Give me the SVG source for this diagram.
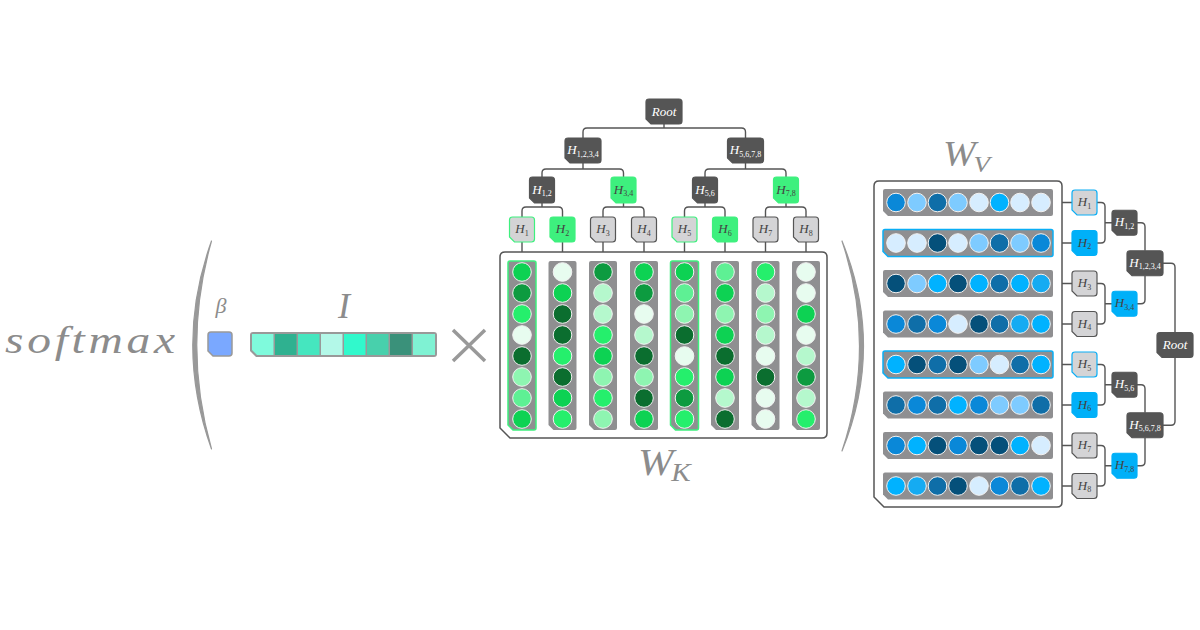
<svg xmlns="http://www.w3.org/2000/svg" xmlns:xlink="http://www.w3.org/1999/xlink" width="1200" height="630" viewBox="0 0 1200 630">
<style>
.math{font-family:"Liberation Serif","DejaVu Serif",serif;font-style:italic;fill:#8c8c8c}
.lbl{font-family:"Liberation Serif","DejaVu Serif",serif;font-style:italic;font-size:13px;text-anchor:middle}
.lw{fill:#ffffff}
.ld{fill:#444444}
.sub{font-size:8px;font-style:normal}
.conn{fill:none;stroke:#555555;stroke-width:1.4}
.box{fill:#ffffff;stroke:#555555;stroke-width:1.5}
.dark{fill:#555555;stroke:#555555;stroke-width:1.2}
.light{fill:#d4d4d6;stroke:#555555;stroke-width:1.2}
.lg{fill:#d4d4d6;stroke:#3ef07e;stroke-width:1.2}
.gg{fill:#3ef07e;stroke:#3ef07e;stroke-width:1.2}
.lb{fill:#d4d4d6;stroke:#0aaef5;stroke-width:1.2}
.bb{fill:#00b0f8;stroke:#00b0f8;stroke-width:1.2}
.col{fill:#8f8f91}
.colg{fill:#8f8f91;stroke:#3ef07e;stroke-width:1.5}
.colb{fill:#8f8f91;stroke:#0aaef5;stroke-width:1.5}
circle{stroke:#f2f2f2;stroke-width:1}
.g1{fill:#0b6e2f}.g2{fill:#0d9b40}.g3{fill:#0dd253}.g4{fill:#25ef6c}
.g5{fill:#5ef094}.g6{fill:#8ef5b1}.g7{fill:#b5f8cd}.g8{fill:#e7fcef}
.b1{fill:#05507a}.b2{fill:#0f6ea8}.b3{fill:#0a88d8}.b4{fill:#00b2ff}
.b5{fill:#15abf2}.b6{fill:#7ecbff}.b7{fill:#d6edff}
</style>
<defs>
<path id="leaf" d="M3,0 H22 Q25,0 25,3 V22 Q25,25 22,25 H5 L0,20 V3 Q0,0 3,0 Z"/>
<path id="n2" d="M3,0 H22 Q25,0 25,3 V23 Q25,26 22,26 H5 L0,21 V3 Q0,0 3,0 Z"/>
<path id="n36" d="M3,0 H33 Q36,0 36,3 V22 Q36,25 33,25 H5 L0,20 V3 Q0,0 3,0 Z"/>
<path id="col" d="M2,0 H26 Q28,0 28,2 V167 Q28,169 26,169 H5 L0,164 V2 Q0,0 2,0 Z"/>
<path id="row" d="M2,0 H168 Q170,0 170,2 V25 Q170,27 168,27 H5 L0,22 V2 Q0,0 2,0 Z"/>
</defs>

<!-- left part -->
<g id="softmax">
<text class="math" transform="translate(5,353) scale(1.25,1)" x="0" y="0" font-size="38" textLength="136" lengthAdjust="spacing">softmax</text>
</g>
<g id="paren-left">
<path d="M211.5,241 Q174,345 211.5,449 Q182,345 211.5,241 Z" fill="#999999" stroke="#999999" stroke-width="1.2" stroke-linejoin="round"/>
</g>
<g id="beta">
<text class="math" x="221" y="313" font-size="22" text-anchor="middle">β</text>
<path d="M211,332 H229 Q232,332 232,335 V353 Q232,356 229,356 H213 L208,351 V335 Q208,332 211,332 Z" fill="#7aa8ff" stroke="#999999" stroke-width="1.5"/>
</g>
<g id="I-vector">
<text class="math" x="344" y="318" font-size="36" text-anchor="middle">I</text>
<path d="M253,332 H434 Q437,332 437,335 V354 Q437,357 434,357 H256 L250,351 V335 Q250,332 253,332 Z" fill="#999999"/>
<path d="M252,334 H273.5 V355 H257 L252,350 Z" fill="#7ffadc"/>
<rect x="275" y="334" width="21.5" height="21" fill="#2fb190"/>
<rect x="298" y="334" width="21.5" height="21" fill="#45e6bf"/>
<rect x="321" y="334" width="21.5" height="21" fill="#b3f8e8"/>
<rect x="344" y="334" width="21.5" height="21" fill="#31f9cc"/>
<rect x="367" y="334" width="21.5" height="21" fill="#48d0ac"/>
<rect x="390" y="334" width="21.5" height="21" fill="#3a917a"/>
<rect x="413" y="334" width="22" height="21" fill="#7ff2d3"/>
</g>
<g id="times">
<path d="M453,330 L485,361 M485,330 L453,361" stroke="#999999" stroke-width="3.5" fill="none"/>
</g>

<!-- connectors -->
<g id="connectors" class="conn">
<path d="M664,123 V128 M583,138 V132 Q583,128 587,128 H741.5 Q745.5,128 745.5,132 V138"/>
<path d="M583,163 V169 M542,177 V173 Q542,169 546,169 H619.5 Q623.5,169 623.5,173 V177"/>
<path d="M745.5,163 V169 M705,177 V173 Q705,169 709,169 H782 Q786,169 786,173 V177"/>
<path d="M542,203 V207 M522,217 V211 Q522,207 526,207 H558.5 Q562.5,207 562.5,211 V217"/>
<path d="M623.5,203 V207 M603,217 V211 Q603,207 607,207 H640 Q644,207 644,211 V217"/>
<path d="M705,203 V207 M684.5,217 V211 Q684.5,207 688.5,207 H721 Q725,207 725,211 V217"/>
<path d="M786,203 V207 M765.5,217 V211 Q765.5,207 769.5,207 H802 Q806,207 806,211 V217"/>
<path d="M522,242 V252 M562.5,242 V252 M603,242 V252 M644,242 V252 M684.5,242 V252 M725,242 V252 M765.5,242 V252 M806,242 V252"/>
<path d="M1062,202.5 H1072 M1062,243 H1072 M1062,283.5 H1072 M1062,324 H1072 M1062,364.5 H1072 M1062,405 H1072 M1062,445.5 H1072 M1062,486 H1072"/>
<path d="M1097,202.5 H1101 Q1105,202.5 1105,206.5 V239 Q1105,243 1101,243 H1097 M1105,222.75 H1112"/>
<path d="M1097,283.5 H1101 Q1105,283.5 1105,287.5 V320 Q1105,324 1101,324 H1097 M1105,303.75 H1112"/>
<path d="M1097,364.5 H1101 Q1105,364.5 1105,368.5 V401 Q1105,405 1101,405 H1097 M1105,384.75 H1112"/>
<path d="M1097,445.5 H1101 Q1105,445.5 1105,449.5 V482 Q1105,486 1101,486 H1097 M1105,465.75 H1112"/>
<path d="M1137,222.75 H1141 Q1145,222.75 1145,226.75 V250.75 M1137,303.75 H1141 Q1145,303.75 1145,299.75 V275.75"/>
<path d="M1137,384.75 H1141 Q1145,384.75 1145,388.75 V412.75 M1137,465.75 H1141 Q1145,465.75 1145,461.75 V437.75"/>
<path d="M1163,263.25 H1171 Q1175,263.25 1175,267.25 V332.5 M1163,425.25 H1171 Q1175,425.25 1175,421.25 V357.5"/>
</g>

<!-- W_K matrix -->
<g id="WK">
<path class="box" d="M505,252 H822 Q827,252 827,257 V433 Q827,438 822,438 H510 L500,428 V257 Q500,252 505,252 Z"/>
<use href="#col" xlink:href="#col" x="508" y="261" class="colg"/>
<use href="#col" xlink:href="#col" x="548.5" y="261" class="col"/>
<use href="#col" xlink:href="#col" x="589" y="261" class="col"/>
<use href="#col" xlink:href="#col" x="630" y="261" class="col"/>
<use href="#col" xlink:href="#col" x="670.5" y="261" class="colg"/>
<use href="#col" xlink:href="#col" x="711" y="261" class="col"/>
<use href="#col" xlink:href="#col" x="751.5" y="261" class="col"/>
<use href="#col" xlink:href="#col" x="792" y="261" class="col"/>
<g>
<circle cx="522" cy="272" r="9.3" class="g3"/><circle cx="522" cy="293" r="9.3" class="g2"/><circle cx="522" cy="314" r="9.3" class="g4"/><circle cx="522" cy="335" r="9.3" class="g8"/><circle cx="522" cy="356" r="9.3" class="g1"/><circle cx="522" cy="377" r="9.3" class="g6"/><circle cx="522" cy="398" r="9.3" class="g5"/><circle cx="522" cy="419" r="9.3" class="g3"/>
<circle cx="562.5" cy="272" r="9.3" class="g8"/><circle cx="562.5" cy="293" r="9.3" class="g3"/><circle cx="562.5" cy="314" r="9.3" class="g1"/><circle cx="562.5" cy="335" r="9.3" class="g1"/><circle cx="562.5" cy="356" r="9.3" class="g4"/><circle cx="562.5" cy="377" r="9.3" class="g1"/><circle cx="562.5" cy="398" r="9.3" class="g3"/><circle cx="562.5" cy="419" r="9.3" class="g4"/>
<circle cx="603" cy="272" r="9.3" class="g2"/><circle cx="603" cy="293" r="9.3" class="g7"/><circle cx="603" cy="314" r="9.3" class="g7"/><circle cx="603" cy="335" r="9.3" class="g4"/><circle cx="603" cy="356" r="9.3" class="g3"/><circle cx="603" cy="377" r="9.3" class="g6"/><circle cx="603" cy="398" r="9.3" class="g4"/><circle cx="603" cy="419" r="9.3" class="g6"/>
<circle cx="644" cy="272" r="9.3" class="g3"/><circle cx="644" cy="293" r="9.3" class="g2"/><circle cx="644" cy="314" r="9.3" class="g8"/><circle cx="644" cy="335" r="9.3" class="g7"/><circle cx="644" cy="356" r="9.3" class="g1"/><circle cx="644" cy="377" r="9.3" class="g6"/><circle cx="644" cy="398" r="9.3" class="g1"/><circle cx="644" cy="419" r="9.3" class="g3"/>
<circle cx="684.5" cy="272" r="9.3" class="g3"/><circle cx="684.5" cy="293" r="9.3" class="g5"/><circle cx="684.5" cy="314" r="9.3" class="g6"/><circle cx="684.5" cy="335" r="9.3" class="g1"/><circle cx="684.5" cy="356" r="9.3" class="g8"/><circle cx="684.5" cy="377" r="9.3" class="g4"/><circle cx="684.5" cy="398" r="9.3" class="g2"/><circle cx="684.5" cy="419" r="9.3" class="g4"/>
<circle cx="725" cy="272" r="9.3" class="g5"/><circle cx="725" cy="293" r="9.3" class="g3"/><circle cx="725" cy="314" r="9.3" class="g6"/><circle cx="725" cy="335" r="9.3" class="g3"/><circle cx="725" cy="356" r="9.3" class="g1"/><circle cx="725" cy="377" r="9.3" class="g3"/><circle cx="725" cy="398" r="9.3" class="g7"/><circle cx="725" cy="419" r="9.3" class="g1"/>
<circle cx="765.5" cy="272" r="9.3" class="g4"/><circle cx="765.5" cy="293" r="9.3" class="g7"/><circle cx="765.5" cy="314" r="9.3" class="g6"/><circle cx="765.5" cy="335" r="9.3" class="g7"/><circle cx="765.5" cy="356" r="9.3" class="g8"/><circle cx="765.5" cy="377" r="9.3" class="g1"/><circle cx="765.5" cy="398" r="9.3" class="g8"/><circle cx="765.5" cy="419" r="9.3" class="g8"/>
<circle cx="806" cy="272" r="9.3" class="g8"/><circle cx="806" cy="293" r="9.3" class="g8"/><circle cx="806" cy="314" r="9.3" class="g3"/><circle cx="806" cy="335" r="9.3" class="g8"/><circle cx="806" cy="356" r="9.3" class="g7"/><circle cx="806" cy="377" r="9.3" class="g2"/><circle cx="806" cy="398" r="9.3" class="g7"/><circle cx="806" cy="419" r="9.3" class="g4"/>
</g>
<text class="math" transform="translate(638,475) scale(1.12,1)" font-size="38">W<tspan font-size="26" dy="6" dx="-2">K</tspan></text>
</g>

<!-- top tree nodes -->
<g id="k-root"><use href="#n36" xlink:href="#n36" x="646" y="99" class="dark"/><text class="lbl lw" x="664" y="115.5">Root</text></g>
<g id="k-h1234"><use href="#n36" xlink:href="#n36" x="565" y="138" class="dark"/><text class="lbl lw" x="583" y="154">H<tspan class="sub" dy="2.5">1,2,3,4</tspan></text></g>
<g id="k-h5678"><use href="#n36" xlink:href="#n36" x="727.5" y="138" class="dark"/><text class="lbl lw" x="745.5" y="154">H<tspan class="sub" dy="2.5">5,6,7,8</tspan></text></g>
<g id="k-h12"><use href="#n2" xlink:href="#n2" x="529.5" y="177" class="dark"/><text class="lbl lw" x="542" y="193.5">H<tspan class="sub" dy="2.5">1,2</tspan></text></g>
<g id="k-h34"><use href="#n2" xlink:href="#n2" x="611" y="177" class="gg"/><text class="lbl ld" x="623.5" y="193.5">H<tspan class="sub" dy="2.5">3,4</tspan></text></g>
<g id="k-h56"><use href="#n2" xlink:href="#n2" x="692.5" y="177" class="dark"/><text class="lbl lw" x="705" y="193.5">H<tspan class="sub" dy="2.5">5,6</tspan></text></g>
<g id="k-h78"><use href="#n2" xlink:href="#n2" x="773.5" y="177" class="gg"/><text class="lbl ld" x="786" y="193.5">H<tspan class="sub" dy="2.5">7,8</tspan></text></g>
<g id="k-h1"><use href="#leaf" xlink:href="#leaf" x="509.5" y="217" class="lg"/><text class="lbl ld" x="522" y="233">H<tspan class="sub" dy="2.5">1</tspan></text></g>
<g id="k-h2"><use href="#leaf" xlink:href="#leaf" x="550" y="217" class="gg"/><text class="lbl ld" x="562.5" y="233">H<tspan class="sub" dy="2.5">2</tspan></text></g>
<g id="k-h3"><use href="#leaf" xlink:href="#leaf" x="590.5" y="217" class="light"/><text class="lbl ld" x="603" y="233">H<tspan class="sub" dy="2.5">3</tspan></text></g>
<g id="k-h4"><use href="#leaf" xlink:href="#leaf" x="631.5" y="217" class="light"/><text class="lbl ld" x="644" y="233">H<tspan class="sub" dy="2.5">4</tspan></text></g>
<g id="k-h5"><use href="#leaf" xlink:href="#leaf" x="672" y="217" class="lg"/><text class="lbl ld" x="684.5" y="233">H<tspan class="sub" dy="2.5">5</tspan></text></g>
<g id="k-h6"><use href="#leaf" xlink:href="#leaf" x="712.5" y="217" class="gg"/><text class="lbl ld" x="725" y="233">H<tspan class="sub" dy="2.5">6</tspan></text></g>
<g id="k-h7"><use href="#leaf" xlink:href="#leaf" x="753" y="217" class="light"/><text class="lbl ld" x="765.5" y="233">H<tspan class="sub" dy="2.5">7</tspan></text></g>
<g id="k-h8"><use href="#leaf" xlink:href="#leaf" x="793.5" y="217" class="light"/><text class="lbl ld" x="806" y="233">H<tspan class="sub" dy="2.5">8</tspan></text></g>

<g id="paren-right">
<path d="M842,241 Q885,346 842,451 Q877,346 842,241 Z" fill="#999999" stroke="#999999" stroke-width="1.2" stroke-linejoin="round"/>
</g>

<!-- W_V matrix -->
<g id="WV">
<text class="math" transform="translate(943,166) scale(1.12,1)" font-size="35">W<tspan font-size="24" dy="6" dx="-2">V</tspan></text>
<path class="box" d="M879,181 H1057 Q1062,181 1062,186 V502 Q1062,507 1057,507 H884 L874,497 V186 Q874,181 879,181 Z"/>
<use href="#row" xlink:href="#row" x="883" y="189" class="col"/>
<use href="#row" xlink:href="#row" x="883" y="229.5" class="colb"/>
<use href="#row" xlink:href="#row" x="883" y="270" class="col"/>
<use href="#row" xlink:href="#row" x="883" y="310.5" class="col"/>
<use href="#row" xlink:href="#row" x="883" y="351" class="colb"/>
<use href="#row" xlink:href="#row" x="883" y="391.5" class="col"/>
<use href="#row" xlink:href="#row" x="883" y="432" class="col"/>
<use href="#row" xlink:href="#row" x="883" y="472.5" class="col"/>
<g>
<circle cx="896" cy="202.5" r="9.3" class="b3"/><circle cx="917" cy="202.5" r="9.3" class="b6"/><circle cx="937.5" cy="202.5" r="9.3" class="b2"/><circle cx="958" cy="202.5" r="9.3" class="b6"/><circle cx="979" cy="202.5" r="9.3" class="b7"/><circle cx="999.5" cy="202.5" r="9.3" class="b4"/><circle cx="1020" cy="202.5" r="9.3" class="b7"/><circle cx="1041" cy="202.5" r="9.3" class="b7"/>
<circle cx="896" cy="243" r="9.3" class="b7"/><circle cx="917" cy="243" r="9.3" class="b7"/><circle cx="937.5" cy="243" r="9.3" class="b1"/><circle cx="958" cy="243" r="9.3" class="b7"/><circle cx="979" cy="243" r="9.3" class="b6"/><circle cx="999.5" cy="243" r="9.3" class="b2"/><circle cx="1020" cy="243" r="9.3" class="b6"/><circle cx="1041" cy="243" r="9.3" class="b3"/>
<circle cx="896" cy="283.5" r="9.3" class="b1"/><circle cx="917" cy="283.5" r="9.3" class="b6"/><circle cx="937.5" cy="283.5" r="9.3" class="b4"/><circle cx="958" cy="283.5" r="9.3" class="b1"/><circle cx="979" cy="283.5" r="9.3" class="b4"/><circle cx="999.5" cy="283.5" r="9.3" class="b2"/><circle cx="1020" cy="283.5" r="9.3" class="b4"/><circle cx="1041" cy="283.5" r="9.3" class="b5"/>
<circle cx="896" cy="324" r="9.3" class="b3"/><circle cx="917" cy="324" r="9.3" class="b2"/><circle cx="937.5" cy="324" r="9.3" class="b3"/><circle cx="958" cy="324" r="9.3" class="b7"/><circle cx="979" cy="324" r="9.3" class="b1"/><circle cx="999.5" cy="324" r="9.3" class="b2"/><circle cx="1020" cy="324" r="9.3" class="b5"/><circle cx="1041" cy="324" r="9.3" class="b4"/>
<circle cx="896" cy="364.5" r="9.3" class="b4"/><circle cx="917" cy="364.5" r="9.3" class="b1"/><circle cx="937.5" cy="364.5" r="9.3" class="b2"/><circle cx="958" cy="364.5" r="9.3" class="b1"/><circle cx="979" cy="364.5" r="9.3" class="b6"/><circle cx="999.5" cy="364.5" r="9.3" class="b7"/><circle cx="1020" cy="364.5" r="9.3" class="b2"/><circle cx="1041" cy="364.5" r="9.3" class="b4"/>
<circle cx="896" cy="405" r="9.3" class="b2"/><circle cx="917" cy="405" r="9.3" class="b3"/><circle cx="937.5" cy="405" r="9.3" class="b2"/><circle cx="958" cy="405" r="9.3" class="b4"/><circle cx="979" cy="405" r="9.3" class="b3"/><circle cx="999.5" cy="405" r="9.3" class="b6"/><circle cx="1020" cy="405" r="9.3" class="b6"/><circle cx="1041" cy="405" r="9.3" class="b2"/>
<circle cx="896" cy="445.5" r="9.3" class="b3"/><circle cx="917" cy="445.5" r="9.3" class="b4"/><circle cx="937.5" cy="445.5" r="9.3" class="b1"/><circle cx="958" cy="445.5" r="9.3" class="b3"/><circle cx="979" cy="445.5" r="9.3" class="b1"/><circle cx="999.5" cy="445.5" r="9.3" class="b1"/><circle cx="1020" cy="445.5" r="9.3" class="b4"/><circle cx="1041" cy="445.5" r="9.3" class="b7"/>
<circle cx="896" cy="486" r="9.3" class="b4"/><circle cx="917" cy="486" r="9.3" class="b5"/><circle cx="937.5" cy="486" r="9.3" class="b2"/><circle cx="958" cy="486" r="9.3" class="b1"/><circle cx="979" cy="486" r="9.3" class="b7"/><circle cx="999.5" cy="486" r="9.3" class="b3"/><circle cx="1020" cy="486" r="9.3" class="b2"/><circle cx="1041" cy="486" r="9.3" class="b4"/>
</g>
</g>

<!-- right tree nodes -->
<g id="v-h1"><use href="#leaf" xlink:href="#leaf" x="1072" y="190" class="lb"/><text class="lbl ld" x="1084.5" y="206">H<tspan class="sub" dy="2.5">1</tspan></text></g>
<g id="v-h2"><use href="#leaf" xlink:href="#leaf" x="1072" y="230.5" class="bb"/><text class="lbl ld" x="1084.5" y="246.5">H<tspan class="sub" dy="2.5">2</tspan></text></g>
<g id="v-h3"><use href="#leaf" xlink:href="#leaf" x="1072" y="271" class="light"/><text class="lbl ld" x="1084.5" y="287">H<tspan class="sub" dy="2.5">3</tspan></text></g>
<g id="v-h4"><use href="#leaf" xlink:href="#leaf" x="1072" y="311.5" class="light"/><text class="lbl ld" x="1084.5" y="327.5">H<tspan class="sub" dy="2.5">4</tspan></text></g>
<g id="v-h5"><use href="#leaf" xlink:href="#leaf" x="1072" y="352" class="lb"/><text class="lbl ld" x="1084.5" y="368">H<tspan class="sub" dy="2.5">5</tspan></text></g>
<g id="v-h6"><use href="#leaf" xlink:href="#leaf" x="1072" y="392.5" class="bb"/><text class="lbl ld" x="1084.5" y="408.5">H<tspan class="sub" dy="2.5">6</tspan></text></g>
<g id="v-h7"><use href="#leaf" xlink:href="#leaf" x="1072" y="433" class="light"/><text class="lbl ld" x="1084.5" y="449">H<tspan class="sub" dy="2.5">7</tspan></text></g>
<g id="v-h8"><use href="#leaf" xlink:href="#leaf" x="1072" y="473.5" class="light"/><text class="lbl ld" x="1084.5" y="489.5">H<tspan class="sub" dy="2.5">8</tspan></text></g>
<g id="v-h12"><use href="#leaf" xlink:href="#leaf" x="1112" y="210.25" class="dark"/><text class="lbl lw" x="1124.5" y="226.25">H<tspan class="sub" dy="2.5">1,2</tspan></text></g>
<g id="v-h34"><use href="#leaf" xlink:href="#leaf" x="1112" y="291.25" class="bb"/><text class="lbl ld" x="1124.5" y="307.25">H<tspan class="sub" dy="2.5">3,4</tspan></text></g>
<g id="v-h56"><use href="#leaf" xlink:href="#leaf" x="1112" y="372.25" class="dark"/><text class="lbl lw" x="1124.5" y="388.25">H<tspan class="sub" dy="2.5">5,6</tspan></text></g>
<g id="v-h78"><use href="#leaf" xlink:href="#leaf" x="1112" y="453.25" class="bb"/><text class="lbl ld" x="1124.5" y="469.25">H<tspan class="sub" dy="2.5">7,8</tspan></text></g>
<g id="v-h1234"><use href="#n36" xlink:href="#n36" x="1127" y="250.75" class="dark"/><text class="lbl lw" x="1145" y="266.75">H<tspan class="sub" dy="2.5">1,2,3,4</tspan></text></g>
<g id="v-h5678"><use href="#n36" xlink:href="#n36" x="1127" y="412.75" class="dark"/><text class="lbl lw" x="1145" y="428.75">H<tspan class="sub" dy="2.5">5,6,7,8</tspan></text></g>
<g id="v-root"><use href="#n36" xlink:href="#n36" x="1157" y="332.5" class="dark"/><text class="lbl lw" x="1175" y="349">Root</text></g>
</svg>
